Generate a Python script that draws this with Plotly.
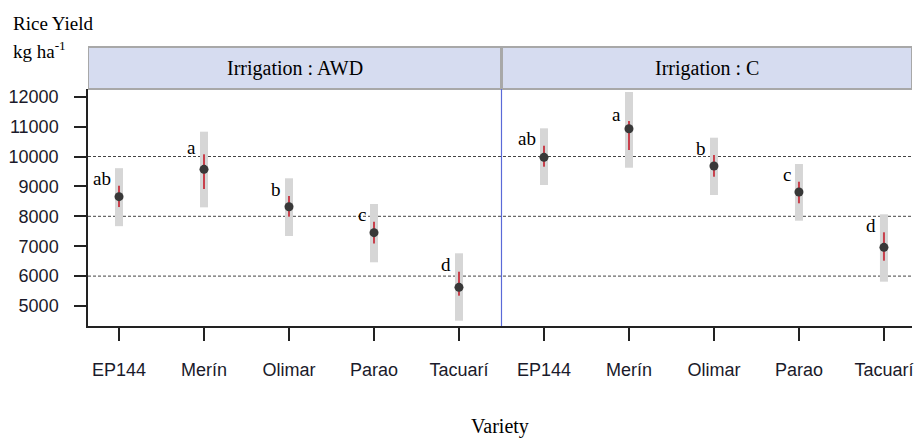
import plotly.graph_objects as go

varieties = ["EP144", "Merín", "Olimar", "Parao", "Tacuarí"]
irrigations = ["AWD", "C"]

# estimated means, outer interval (grey) and inner interval (red), per panel
mean_awd = [8656, 9572, 8321, 7452, 5625]
grey_lo_awd = [7670, 8300, 7341, 6462, 4508]
grey_hi_awd = [9610, 10830, 9271, 8411, 6763]
red_lo_awd = [8310, 8913, 7987, 7094, 5345]
red_hi_awd = [9023, 10074, 8679, 7819, 6147]
letters_awd = ["ab", "a", "b", "c", "d"]

mean_c = [9973, 10930, 9682, 8813, 6963]
grey_lo_c = [9047, 9625, 8712, 7853, 5813]
grey_hi_c = [10943, 12157, 10629, 9749, 8067]
red_lo_c = [9659, 10217, 9324, 8435, 6515]
red_hi_c = [10361, 11187, 10050, 9157, 7465]
letters_c = ["ab", "a", "b", "c", "d"]

y_ticks = [5000, 6000, 7000, 8000, 9000, 10000, 11000, 12000]
y_tick_labels = ["5000", "6000", "7000", "8000", "9000", "10000", "11000", "12000"]
ref_lines = [6000, 8000, 10000]

means = mean_awd + mean_c
grey_lo = grey_lo_awd + grey_lo_c
grey_hi = grey_hi_awd + grey_hi_c
red_lo = red_lo_awd + red_lo_c
red_hi = red_hi_awd + red_hi_c
letters = letters_awd + letters_c
labels = varieties * len(irrigations)
xpos = list(range(1, len(labels) + 1))

serif = "Liberation Serif"
sans = "Liberation Sans"

fig = go.Figure()

fig.add_trace(go.Scatter(
    x=xpos, y=means, mode="markers",
    marker=dict(size=1, color="rgba(0,0,0,0)"),
    error_y=dict(type="data", symmetric=False,
                 array=[h - m for h, m in zip(grey_hi, means)],
                 arrayminus=[m - l for l, m in zip(grey_lo, means)],
                 color="#d6d6d6", thickness=8, width=0),
    showlegend=False, hoverinfo="skip"))

fig.add_trace(go.Scatter(
    x=xpos, y=means, mode="markers",
    marker=dict(size=9, color="#383838"),
    error_y=dict(type="data", symmetric=False,
                 array=[h - m for h, m in zip(red_hi, means)],
                 arrayminus=[m - l for l, m in zip(red_lo, means)],
                 color="#c8404c", thickness=2, width=0),
    showlegend=False))

# group letters
for x, yv, t in zip(xpos, red_hi, letters):
    fig.add_annotation(x=x, y=yv, text=t, showarrow=False,
                       xanchor="right", yanchor="middle",
                       xshift=-6, yshift=7,
                       font=dict(family=serif, size=19, color="black"))

# dashed reference lines
for r in ref_lines:
    fig.add_shape(type="line", xref="paper", x0=0, x1=1, yref="y", y0=r, y1=r,
                  line=dict(color="#444444", width=1, dash="3px,2px"), layer="below")

n = len(varieties)
x_min, x_max = 0.635, 10.33
bounds = [x_min, n + 0.5, x_max]
strip_top = 1.177
for i, irr in enumerate(irrigations):
    fig.add_shape(type="rect", xref="x", yref="paper",
                  x0=bounds[i], x1=bounds[i + 1], y0=1.0, y1=strip_top,
                  fillcolor="#d6dcf0", line=dict(color="#a8a8a8", width=2))
    fig.add_annotation(x=(bounds[i] + bounds[i + 1]) / 2, xref="x",
                       y=(1 + strip_top) / 2, yref="paper",
                       xanchor="center", yanchor="middle",
                       text=f"Irrigation : {irr}", showarrow=False,
                       font=dict(family=serif, size=20, color="black"))

# strip divider and panel divider
fig.add_shape(type="line", xref="x", yref="paper", x0=n + 0.5, x1=n + 0.5,
              y0=1.0, y1=strip_top, line=dict(color="#a8a8a8", width=3))
fig.add_shape(type="line", xref="x", yref="paper", x0=n + 0.5, x1=n + 0.5,
              y0=0, y1=1.0, line=dict(color="#5a6ad8", width=1.2))

fig.add_annotation(xref="paper", yref="paper", x=0, y=1,
                   xshift=-77, yshift=66, xanchor="left", yanchor="middle",
                   text="Rice Yield", showarrow=False,
                   font=dict(family=serif, size=19, color="black"))
fig.add_annotation(xref="paper", yref="paper", x=0, y=1,
                   xshift=-77, yshift=39, xanchor="left", yanchor="middle",
                   text="kg ha<sup>-1</sup>", showarrow=False,
                   font=dict(family=serif, size=19, color="black"))

fig.update_layout(
    width=914, height=438,
    margin=dict(l=88, r=2, t=89, b=112),
    paper_bgcolor="white", plot_bgcolor="white",
    xaxis=dict(range=[x_min, x_max], tickmode="array", tickvals=xpos,
               ticktext=labels, ticks="outside", ticklen=13, tickwidth=1.5,
               tickcolor="#222", showline=True, linecolor="#222", linewidth=1.5,
               showgrid=False, zeroline=False, ticklabelstandoff=14,
               tickfont=dict(family=sans, size=18, color="#1a1a2a"),
               title=dict(text="Variety", standoff=40,
                          font=dict(family=serif, size=20, color="black"))),
    yaxis=dict(range=[4331, 12258], tickmode="array", tickvals=y_ticks,
               ticktext=y_tick_labels,
               ticks="outside", ticklen=12, tickwidth=1.5, tickcolor="#222",
               showline=True, linecolor="#222", linewidth=1.5,
               showgrid=False, zeroline=False, ticklabelstandoff=12,
               tickfont=dict(family=sans, size=18, color="#1a1a2a")),
)

fig.write_html("out.html")
